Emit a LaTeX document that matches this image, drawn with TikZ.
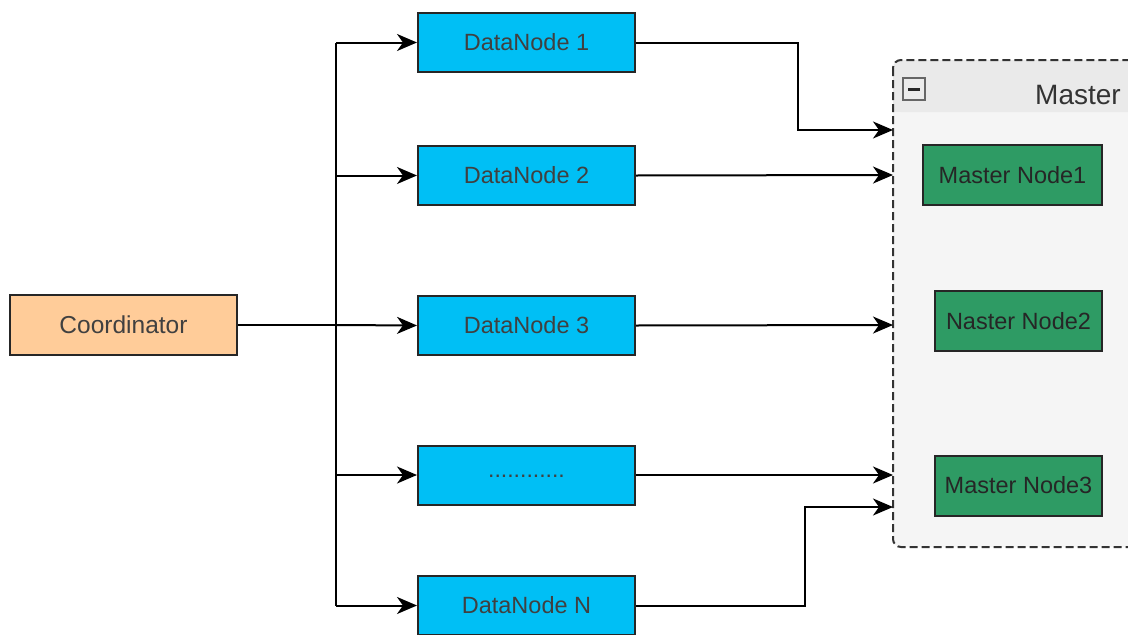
\documentclass[tikz,border=0pt]{standalone}
\usepackage{fontspec}
\setmainfont{Liberation Sans}
\usetikzlibrary{arrows.meta,calc}
\definecolor{dnblue}{RGB}{0,191,245}
\definecolor{coord}{RGB}{255,204,153}
\definecolor{mgreen}{RGB}{46,155,100}
\definecolor{hdr}{RGB}{234,234,234}
\definecolor{body}{RGB}{245,245,245}
\begin{document}
\begin{tikzpicture}[x=1pt,y=-1pt,
  box/.style={draw=black!85,line width=2pt,minimum width=217pt,minimum height=59pt,inner sep=0pt,font=\fontsize{23.5}{27}\selectfont,text=black!75},
  dn/.style={box,fill=dnblue},
  mn/.style={box,fill=mgreen,minimum width=167pt,minimum height=60pt,text=black!85,font=\fontsize{23.5}{27}\selectfont},
  conn/.style={line width=2pt,-{Stealth[length=20pt,width=17pt,inset=6pt]}}]
\useasboundingbox (0,0) rectangle (1128,635);
\fill[white] (0,0) rectangle (1128,635);
% container
\fill[body,rounded corners=8pt] (893,60) rectangle (1140,547);
\fill[hdr,rounded corners=8pt] (893,60) rectangle (1140,112);
\fill[hdr] (893,100) rectangle (1140,112);
\draw[black!80,dash pattern=on 8pt off 4pt,line width=2pt,rounded corners=8pt] (893,60) rectangle (1140,547);
\node[draw=black!60,fill=white!92!black,minimum width=22pt,minimum height=22pt,inner sep=0pt,line width=1.2pt] (minus) at (914,89) {};
\draw[line width=3pt,black!85] ($(minus.center)+(-6,0)$) -- ($(minus.center)+(6,0)$);
\node[anchor=east,font=\fontsize{28}{32}\selectfont,text=black!80,inner sep=0pt] (mtitle) at (1121,95) {Master};
% nodes
\node[box,fill=coord,minimum width=227pt,minimum height=60pt,font=\fontsize{24.5}{28}\selectfont] (co) at (123.5,325) {Coordinator};
\node[dn] (d1) at (526.5,42.5) {DataNode 1};
\node[dn] (d2) at (526.5,175.5) {DataNode 2};
\node[dn] (d3) at (526.5,325.5) {DataNode 3};
\node[dn] (d4) at (526.5,475) {\raisebox{-4pt}{\fontsize{23}{26}\selectfont............}};
\node[dn] (d5) at (526.5,605.5) {DataNode N};
\node[mn,minimum width=179pt] (m1) at (1012.5,175) {Master Node1};
\node[mn] (m2) at (1018.5,321) {Naster Node2};
\node[mn] (m3) at (1018.5,485.5) {Master Node3};
% targets on container edge
\coordinate (t1) at (893,130);
\coordinate (t2) at (893,175);
\coordinate (t3) at (893,325);
\coordinate (t4) at (893,475);
\coordinate (t5) at (893,507);
\coordinate (trunk) at (336,325);
% connectors
\draw[line width=2pt] (co.east) -- (trunk);
\draw[line width=2pt] (336,42.5) -- (336,605.5);
\draw[conn] (336,42.5) -- (d1.west);
\draw[conn] (336,175.5) -- (d2.west);
\draw[conn] (trunk) -- (d3.west);
\draw[conn] (336,475) -- (d4.west);
\draw[conn] (336,605.5) -- (d5.west);
\draw[conn] (d1.east) -| (798,130) -- (t1);
\draw[conn] (d2.east) -- (t2);
\draw[conn] (d3.east) -- (t3);
\draw[conn] (d4.east) -- (t4);
\draw[conn] (d5.east) -| (805,507) -- (t5);
\end{tikzpicture}
\end{document}
